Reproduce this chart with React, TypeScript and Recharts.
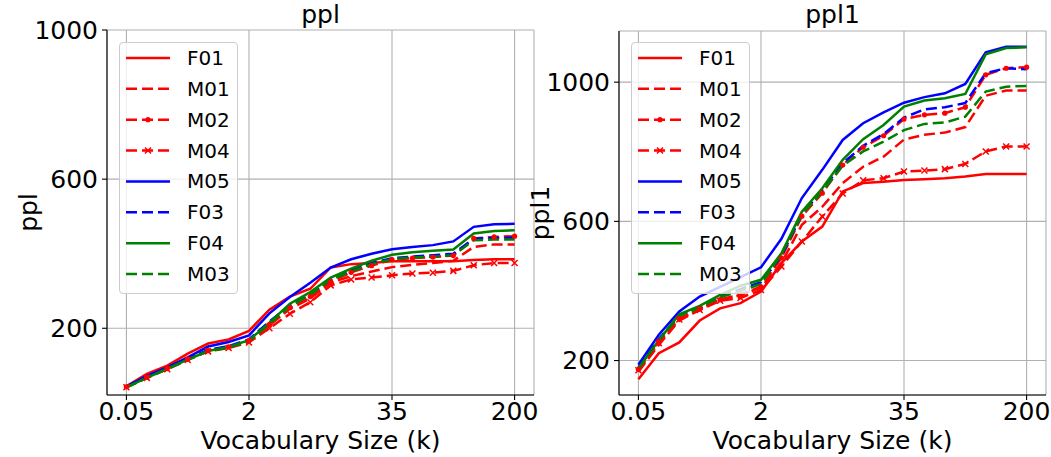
import React from "react";
import { LineChart, Line, XAxis, YAxis, CartesianGrid, Legend, Label } from "recharts";

// x positions: 20 vocabulary sizes, only four are labelled on the axis
const steps = [0, 1, 2, 3, 4, 5, 6, 7, 8, 9, 10, 11, 12, 13, 14, 15, 16, 17, 18, 19];
const xTickIdx = [0, 6, 13, 19];
const xTickLabels = ["0.05", "2", "35", "200"];
const yTicks = [200, 600, 1000];

// ppl (left)
const pplF01 = [44, 78, 100, 132, 159, 170, 193, 250, 285, 306, 363, 372, 375, 380, 380, 380, 380, 383, 385, 385];
const pplM01 = [42, 70, 93, 118, 140, 150, 165, 208, 252, 280, 322, 340, 352, 364, 370, 375, 381, 418, 425, 425];
const pplM02 = [43, 68, 92, 117, 140, 150, 167, 210, 255, 285, 325, 350, 368, 384, 388, 391, 395, 441, 445, 447];
const pplM04 = [42, 67, 90, 115, 138, 147, 162, 200, 239, 270, 315, 331, 336, 342, 347, 349, 354, 369, 375, 375];
const pplM05 = [44, 72, 95, 122, 151, 163, 181, 240, 284, 322, 363, 385, 400, 412, 418, 423, 433, 472, 479, 480];
const pplF03 = [43, 68, 92, 118, 142, 152, 170, 218, 262, 292, 330, 355, 375, 388, 392, 396, 400, 440, 443, 443];
const pplF04 = [42, 67, 92, 116, 139, 150, 168, 215, 266, 297, 336, 360, 381, 397, 404, 408, 411, 454, 461, 463];
const pplM03 = [41, 67, 91, 115, 139, 148, 165, 212, 258, 290, 330, 352, 372, 385, 390, 392, 396, 436, 438, 438];

// ppl1 (right)
const ppl1F01 = [146, 221, 252, 315, 350, 365, 398, 480, 542, 585, 686, 710, 714, 719, 721, 724, 729, 736, 736, 736];
const ppl1M01 = [168, 245, 315, 346, 375, 388, 410, 480, 590, 642, 710, 757, 786, 835, 849, 855, 871, 961, 976, 976];
const ppl1M02 = [175, 255, 320, 348, 375, 390, 412, 495, 615, 681, 762, 813, 846, 894, 906, 911, 928, 1021, 1040, 1043];
const ppl1M04 = [172, 250, 318, 345, 372, 380, 403, 470, 542, 614, 680, 718, 724, 743, 746, 750, 765, 801, 815, 815];
const ppl1M05 = [188, 274, 341, 384, 412, 440, 468, 550, 667, 748, 834, 882, 913, 941, 957, 968, 995, 1086, 1102, 1102];
const ppl1F03 = [180, 262, 330, 355, 385, 405, 425, 500, 620, 690, 767, 817, 851, 898, 922, 928, 940, 1026, 1040, 1037];
const ppl1F04 = [178, 258, 333, 357, 389, 415, 432, 508, 628, 695, 777, 836, 877, 930, 947, 954, 966, 1080, 1098, 1100];
const ppl1M03 = [176, 258, 328, 352, 382, 400, 420, 505, 620, 685, 760, 801, 829, 862, 880, 884, 901, 973, 987, 989];

const RED = "#ff0000";
const BLUE = "#0000ff";
const GREEN = "#008000";
const DASH = "11 5";
const FONT = "DejaVu Sans";

type Marker = "none" | "dot" | "x";
const series: { key: string; color: string; dash?: string; marker: Marker }[] = [
  { key: "F01", color: RED, marker: "none" },
  { key: "M01", color: RED, dash: DASH, marker: "none" },
  { key: "M02", color: RED, dash: DASH, marker: "dot" },
  { key: "M04", color: RED, dash: DASH, marker: "x" },
  { key: "M05", color: BLUE, marker: "none" },
  { key: "F03", color: BLUE, dash: DASH, marker: "none" },
  { key: "F04", color: GREEN, marker: "none" },
  { key: "M03", color: GREEN, dash: DASH, marker: "none" },
];

const pplRows = steps.map((s, i) => ({
  step: s,
  F01: pplF01[i], M01: pplM01[i], M02: pplM02[i], M04: pplM04[i],
  M05: pplM05[i], F03: pplF03[i], F04: pplF04[i], M03: pplM03[i],
}));

const ppl1Rows = steps.map((s, i) => ({
  step: s,
  F01: ppl1F01[i], M01: ppl1M01[i], M02: ppl1M02[i], M04: ppl1M04[i],
  M05: ppl1M05[i], F03: ppl1F03[i], F04: ppl1F04[i], M03: ppl1M03[i],
}));

const tickLabel = (v: number) => {
  const i = xTickIdx.indexOf(v);
  return i >= 0 ? xTickLabels[i] : "";
};

const xPath = (cx: number, cy: number, r: number) =>
  `M${cx - r},${cy - r}L${cx + r},${cy + r}M${cx - r},${cy + r}L${cx + r},${cy - r}`;

function makeDot(s: { key: string; color: string; marker: Marker }) {
  if (s.marker === "none") return false;
  return (p: any) => {
    const k = `${s.key}-${p.index}`;
    if (p.cx == null || p.cy == null) return <g key={k} />;
    if (s.marker === "dot") return <circle key={k} cx={p.cx} cy={p.cy} r={2.6} fill={s.color} stroke="none" />;
    return <path key={k} d={xPath(p.cx, p.cy, 3)} stroke={s.color} strokeWidth={1.5} fill="none" />;
  };
}

function LegendBox() {
  return (
    <div
      style={{
        width: 117,
        height: 250,
        border: "1px solid #cccccc",
        borderRadius: 4,
        background: "rgba(255,255,255,0.8)",
      }}
    >
      <svg width={117} height={250} style={{ display: "block" }}>
        {series.map((s, i) => {
          const y = 15 + i * 30.86;
          return (
            <g key={s.key}>
              <line x1={6} x2={50} y1={y} y2={y} stroke={s.color} strokeWidth={2.5} strokeDasharray={s.dash} />
              {s.marker === "dot" && <circle cx={28} cy={y} r={2.6} fill={s.color} />}
              {s.marker === "x" && <path d={xPath(28, y, 3)} stroke={s.color} strokeWidth={1.5} />}
              <text x={67} y={y + 7} fontSize={20} fill="#000" fontFamily={FONT}>
                {s.key}
              </text>
            </g>
          );
        })}
      </svg>
    </div>
  );
}

interface PanelProps {
  rows: any[];
  yLabel: string;
  domain: [number, number];
  left: number;
  width: number;
  top: number;
  yAxisWidth: number;
  yLabelOffset: number;
  marginRight: number;
  legendLeft: number;
}

function Panel(p: PanelProps) {
  return (
    <div style={{ position: "absolute", left: p.left, top: 0 }}>
      <LineChart
        width={p.width}
        height={457}
        data={p.rows}
        margin={{ top: p.top, right: p.marginRight, left: 0, bottom: 0 }}
      >
        <CartesianGrid stroke="#b0b0b0" strokeWidth={1.1} />
        <XAxis
          dataKey="step"
          type="number"
          domain={[-0.95, 19.95]}
          ticks={xTickIdx}
          interval={0}
          tickFormatter={tickLabel}
          height={62}
          stroke="#000"
          strokeWidth={1.1}
          tickSize={5}
          tickMargin={2}
          tick={{ fill: "#000", fontSize: 25, fontFamily: FONT }}
        >
          <Label value="Vocabulary Size (k)" position="insideBottom" offset={8} fill="#000" fontSize={25} fontFamily={FONT} />
        </XAxis>
        <XAxis
          xAxisId="top"
          orientation="top"
          dataKey="step"
          type="number"
          domain={[-0.95, 19.95]}
          height={0}
          tick={false}
          tickLine={false}
          stroke="#000"
          strokeWidth={1.1}
        />
        <YAxis
          type="number"
          domain={p.domain}
          ticks={yTicks}
          interval={0}
          width={p.yAxisWidth}
          stroke="#000"
          strokeWidth={1.1}
          tickSize={5}
          tickMargin={4}
          tick={{ fill: "#000", fontSize: 25, fontFamily: FONT }}
        >
          <Label
            value={p.yLabel}
            angle={-90}
            position="insideLeft"
            offset={p.yLabelOffset}
            textAnchor="middle"
            fill="#000"
            fontSize={25}
            fontFamily={FONT}
          />
        </YAxis>
        <YAxis
          yAxisId="right"
          orientation="right"
          type="number"
          domain={p.domain}
          width={0}
          tick={false}
          tickLine={false}
          stroke="#000"
          strokeWidth={1.1}
        />
        {series.map((s) => (
          <Line
            key={s.key}
            dataKey={s.key}
            name={s.key}
            type="linear"
            stroke={s.color}
            strokeWidth={2.5}
            strokeDasharray={s.dash}
            dot={makeDot(s)}
            activeDot={false}
            isAnimationActive={false}
          />
        ))}
        <Legend
          layout="vertical"
          align="center"
          verticalAlign="middle"
          content={() => <LegendBox />}
          wrapperStyle={{ left: p.legendLeft, top: 42, width: 119, height: 252 }}
        />
      </LineChart>
    </div>
  );
}

export default function App() {
  return (
    <div
      style={{
        position: "absolute",
        left: 0,
        top: 0,
        width: 1051,
        height: 457,
        background: "#fff",
        fontFamily: FONT,
        overflow: "hidden",
      }}
    >
      <Panel
        rows={pplRows}
        yLabel="ppl"
        domain={[21, 1000]}
        left={0}
        width={540}
        top={30}
        yAxisWidth={107}
        yLabelOffset={28}
        marginRight={6}
        legendLeft={119}
      />
      <Panel
        rows={ppl1Rows}
        yLabel="ppl1"
        domain={[101, 1147]}
        left={520}
        width={531}
        top={31}
        yAxisWidth={99}
        yLabelOffset={20}
        marginRight={5}
        legendLeft={111}
      />
      <svg width={1051} height={40} style={{ position: "absolute", left: 0, top: 0, pointerEvents: "none" }}>
        <text x={320.5} y={23} textAnchor="middle" fontSize={25} fill="#000" fontFamily={FONT}>
          ppl
        </text>
        <text x={832.5} y={23} textAnchor="middle" fontSize={25} fill="#000" fontFamily={FONT}>
          ppl1
        </text>
      </svg>
    </div>
  );
}
